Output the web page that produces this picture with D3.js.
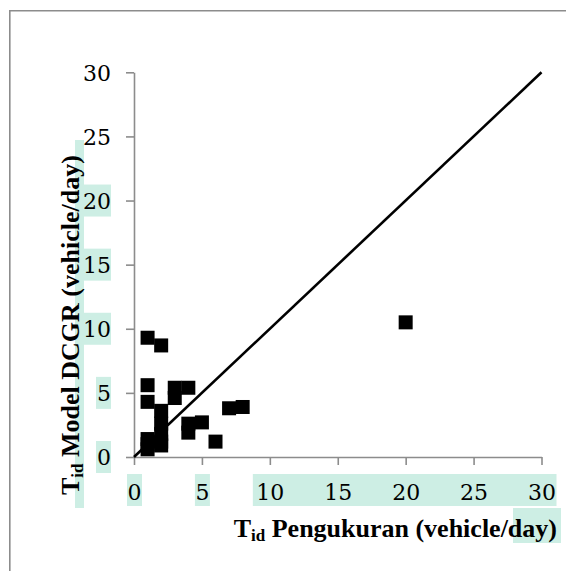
<!DOCTYPE html>
<html><head><meta charset="utf-8">
<script src="https://cdn.jsdelivr.net/npm/d3@7"></script>
<style>html,body{margin:0;padding:0;background:#fff;}svg{display:block;}</style>
</head><body>
<svg id="c" width="566" height="571"></svg>
<script>
// ---- data ----
const measured = [1, 2, 1, 1, 3, 4, 3, 2, 7, 8, 4, 5, 4, 6, 2, 2, 2, 2, 1, 1, 1, 20];
const model    = [9.3, 8.7, 5.6, 4.3, 5.4, 5.4, 4.6, 3.6, 3.8, 3.9, 2.6, 2.7, 1.9, 1.2, 2.6, 1.8, 1.2, 0.9, 1.4, 1.0, 0.6, 10.5];
const refLine  = [0, 30];
const xTicks   = [0, 5, 10, 15, 20, 25, 30];
const yTicks   = [0, 5, 10, 15, 20, 25, 30];
const xTitleMain = " Pengukuran (vehicle/day)";
const yTitleMain = " Model DCGR (vehicle/day)";

const HL = "#cdeee4";
const AX = "#8c8c8c";
const svg = d3.select("#c");

const x = d3.scaleLinear().domain([0, 30]).range([134, 541.5]);
const y = d3.scaleLinear().domain([0, 30]).range([457, 72.3]);

// outer frame (only top and left edges visible)
svg.append("path").attr("d", "M9.8,571 L9.8,10.8 L566,10.8")
  .attr("fill", "none").attr("stroke", AX).attr("stroke-width", 1.6);

// highlight boxes (text background)
const hl = svg.append("g").attr("fill", HL);
// x tick labels
hl.append("rect").attr("x", x(0) - 7).attr("y", 474).attr("width", 15).attr("height", 32);
hl.append("rect").attr("x", x(5) - 7).attr("y", 474).attr("width", 15).attr("height", 32);
hl.append("rect").attr("x", x(10) - 17).attr("y", 474).attr("width", x(30) - x(10) + 32).attr("height", 32);
// "day)" in x title
hl.append("rect").attr("x", 513).attr("y", 508).attr("width", 48).attr("height", 35);
// y tick labels
[0, 5].forEach(v => hl.append("rect").attr("x", 96).attr("y", y(v) - 16).attr("width", 15).attr("height", 32));
[10, 15, 20].forEach(v => hl.append("rect").attr("x", 82).attr("y", y(v) - 16).attr("width", 29).attr("height", 32));
// strip along y title
hl.append("rect").attr("x", 75).attr("y", 140).attr("width", 9).attr("height", 368);

// axes
const xAxis = d3.axisBottom(x).tickValues(xTicks).tickSize(8).tickSizeOuter(0).tickPadding(5);
const yAxis = d3.axisLeft(y).tickValues(yTicks).tickSize(8).tickSizeOuter(0).tickPadding(14);

const gx = svg.append("g").attr("transform", `translate(0,${y(0)})`).call(xAxis);
const gy = svg.append("g").attr("transform", `translate(${x(0)},0)`).call(yAxis);
[gx, gy].forEach(g => {
  g.select(".domain").attr("stroke", AX).attr("stroke-width", 1.6);
  g.selectAll(".tick line").attr("stroke", AX).attr("stroke-width", 1.6);
  g.selectAll(".tick text").attr("fill", "#000")
    .style("font-family", "'DejaVu Serif', serif").style("font-size", "22px");
});
gx.selectAll(".tick text").attr("dy", null).attr("y", 43);
gy.selectAll(".tick text").attr("x", -23).attr("dy", "0.36em");

// reference line y = x
svg.append("path")
  .datum(refLine)
  .attr("d", d3.line().x(d => x(d)).y(d => y(d)))
  .attr("stroke", "#000").attr("stroke-width", 2.6).attr("fill", "none");

// points (squares)
const S = 14;
svg.append("g").selectAll("rect").data(measured.map((m, i) => [m, model[i]]))
  .join("rect")
  .attr("x", d => x(d[0]) - S / 2).attr("y", d => y(d[1]) - S / 2)
  .attr("width", S).attr("height", S).attr("fill", "#000");

// axis titles
const tf = "'Liberation Serif', 'Times New Roman', serif";
const xt = svg.append("text").attr("x", 557).attr("y", 537).attr("text-anchor", "end")
  .style("font-family", tf).style("font-size", "26px").style("font-weight", "bold");
xt.append("tspan").text("T");
xt.append("tspan").attr("dy", 4).style("font-size", "17px").text("id");
xt.append("tspan").attr("dy", -4).text(xTitleMain);

const yt = svg.append("text").attr("transform", "translate(79,495) rotate(-90)")
  .attr("text-anchor", "start")
  .style("font-family", tf).style("font-size", "26px").style("font-weight", "bold");
yt.append("tspan").text("T");
yt.append("tspan").attr("dy", 4).style("font-size", "17px").text("id");
yt.append("tspan").attr("dy", -4).text(yTitleMain);
</script>
</body></html>
